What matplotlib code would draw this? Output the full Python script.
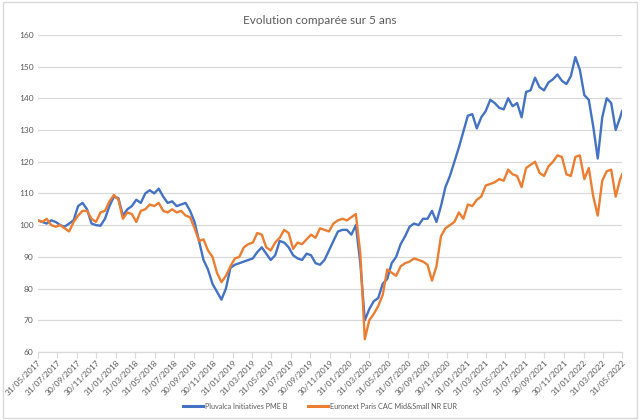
import matplotlib
matplotlib.use("Agg")
import matplotlib.pyplot as plt
import matplotlib.dates as mdates
from matplotlib.patches import Rectangle
import pandas as pd

plt.rcParams["font.family"] = ["Lato", "DejaVu Sans"]

title = "Evolution comparée sur 5 ans"
series_names = ["Pluvalca Initiatives PME B", "Euronext Paris CAC Mid&Small NR EUR"]

dates = list(pd.date_range("2017-05-31", periods=131, freq="14D")) + [pd.Timestamp("2022-05-31")]

pluvalca = [
    101.5, 101, 100.5, 101.5, 101, 100, 99.5, 100.5, 101.5, 106,
    107, 105, 100.5, 100, 99.8, 102, 106, 109, 108.5, 103,
    105, 106, 108, 107, 110, 111, 110, 111.5, 109, 107,
    107.5, 106, 106.5, 107, 104.5, 101, 95, 89, 86, 81.5,
    79, 76.5, 80, 86.5, 87.5, 88, 88.5, 89, 89.5, 91.5,
    93, 91, 89, 90.5, 95, 94.5, 93, 90.5, 89.5, 89,
    91, 90.5, 88, 87.5, 89, 92, 95, 98, 98.5, 98.5,
    97, 100, 88, 70, 73.5, 76, 77, 81.5, 83, 88,
    90, 94, 96.5, 99.5, 100.5, 100, 102, 102, 104.5, 101,
    106, 112, 115.5, 120, 124.5, 129.5, 134.5, 135, 130.5, 134,
    136, 139.5, 138.5, 137, 136.5, 140, 137.5, 138.5, 134, 142,
    142.5, 146.5, 143.5, 142.5, 145, 146, 147.5, 145.5, 144.5, 147,
    153, 149, 141, 139.5, 131, 121, 134, 140, 138.5, 130,
    134, 136,
]

euronext = [
    101.5, 101, 102, 100, 99.5, 100, 99, 98, 101, 103,
    104.5, 104.5, 102, 101, 104, 104.5, 107.5, 109.5, 108, 102,
    104, 103.5, 101, 104.5, 105, 106.5, 106, 107, 104.5, 104,
    105, 104, 104.5, 103, 102.5, 99, 95, 95.5, 92, 90,
    85, 82, 84, 87, 89.5, 90, 93, 94, 94.5, 97.5,
    97, 93, 92, 94.5, 96, 98.5, 97.5, 92.5, 94.5, 94,
    95.5, 97, 96, 99, 98.5, 98, 100.5, 101.5, 102, 101.5,
    102.5, 103.5, 91, 64, 70, 72, 74.5, 78, 86, 85,
    84, 87, 88, 88.5, 89.5, 89, 88.5, 87.5, 82.5, 87,
    96.5, 99, 100, 101, 104, 102, 106.5, 106, 108, 109,
    112.5, 113, 113.5, 114.5, 114, 117.5, 116, 115.5, 112, 118,
    119, 120, 116.5, 115.5, 118.5, 120, 122, 121.5, 116, 115.5,
    121.5, 122, 114.5, 118, 109, 103, 114, 117, 117.5, 109,
    114.5, 116,
]

y_ticks = [60, 70, 80, 90, 100, 110, 120, 130, 140, 150, 160]
x_ticks = pd.date_range("2017-05-31", "2022-05-31", freq="2ME")

blue = "#4472C4"
orange = "#ED7D31"
txt = "#595959"
grid = "#D9D9D9"

fig = plt.figure(figsize=(6.4, 4.2), dpi=100)
fig.patches.append(Rectangle((0.004, 0.005), 0.992, 0.99, transform=fig.transFigure,
                             fill=False, edgecolor="#D9D9D9", linewidth=1.0))
ax = fig.add_axes([0.059, 0.162, 0.913, 0.755])

ax.plot(dates, pluvalca, color=blue, lw=1.7, label=series_names[0], zorder=3)
ax.plot(dates, euronext, color=orange, lw=1.7, label=series_names[1], zorder=4)

ax.set_ylim(60, 160)
ax.set_yticks(y_ticks)
ax.set_xlim(pd.Timestamp("2017-05-31"), pd.Timestamp("2022-05-31"))
ax.set_xticks(x_ticks)
ax.xaxis.set_major_formatter(mdates.DateFormatter("%d/%m/%Y"))
ax.grid(axis="y", color=grid, lw=0.9)
ax.set_axisbelow(True)
for s in ["top", "right", "left"]:
    ax.spines[s].set_visible(False)
ax.spines["bottom"].set_color(grid)
ax.spines["bottom"].set_linewidth(0.9)
ax.tick_params(axis="y", length=0, labelsize=6, labelcolor=txt, pad=3)
ax.tick_params(axis="x", length=4, color=grid, labelsize=6, labelcolor=txt, pad=1)
for lab in ax.get_xticklabels():
    lab.set_rotation(45)
    lab.set_ha("right")
    lab.set_rotation_mode("anchor")

fig.text(0.5, 0.952, title, ha="center", va="center", fontsize=8.5, color=txt)
leg = fig.legend(loc="center", bbox_to_anchor=(0.5, 0.033), ncol=2, frameon=False,
                 fontsize=5.2, labelcolor=txt, handlelength=2.8, columnspacing=2.8,
                 handletextpad=0.3)
for l in leg.get_lines():
    l.set_linewidth(2.2)

fig.savefig("out.png", dpi=100)
